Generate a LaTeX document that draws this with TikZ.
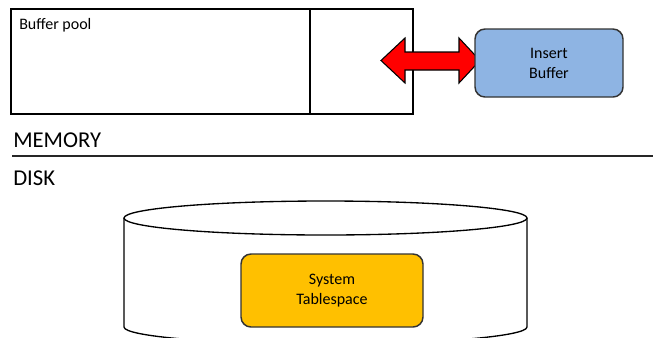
\documentclass[tikz,border=0pt]{standalone}
\usepackage{fontspec}
\setmainfont{Carlito}

\definecolor{bufblue}{RGB}{142,180,227}
\definecolor{tsyellow}{RGB}{255,192,0}

\tikzset{
    block/.style={draw=black!80, line width=1.1pt, rounded corners=7.5pt,
        align=center, inner sep=0pt, font=\fontsize{12}{15}\selectfont},
    caption/.style={anchor=base west, inner sep=0pt}
}

\begin{document}
\begin{tikzpicture}[x=0.75pt, y=-0.75pt]
    \useasboundingbox (0,0) rectangle (661,337);
    \clip (0,0) rectangle (661,337);

    % memory side
    \node (pool) [draw, line width=1.1pt, minimum width=301.5pt, minimum height=78.75pt, inner sep=0pt] at (212,61.5) {};
    \draw [line width=1.1pt] (310,9) -- (310,114);
    \node (pooltext) [caption, font=\fontsize{12}{15}\selectfont] at (19,29) {Buffer pool};

    \draw [fill=red, draw=black, line width=0.8pt, line join=miter]
        (381,60.5) -- (405,38) -- (405,52) -- (459,52) -- (459,38) -- (480,60.5)
        -- (459,83) -- (459,70) -- (405,70) -- (405,83) -- cycle;

    \node (ibuf) [block, fill=bufblue, minimum width=111pt, minimum height=51pt] at (549,63) {Insert\\Buffer};

    % split
    \node (mem) [caption, font=\fontsize{17}{20}\selectfont] at (13,147) {MEMORY};
    \draw [line width=1.1pt, black!85] (12,156) -- (653,156);
    \node (disk) [caption, font=\fontsize{17}{20}\selectfont] at (13,185) {DISK};

    % disk side
    \draw [fill=white, line width=1pt] (124,218) -- (124,327) arc (180:0:201.5 and 17) -- (527,218);
    \draw [fill=white, line width=1pt] (325.5,218) ellipse (201.5 and 17);

    \node (systs) [block, fill=tsyellow, minimum width=136.5pt, minimum height=54.75pt] at (332,290.5) {System\\Tablespace};

\end{tikzpicture}
\end{document}
